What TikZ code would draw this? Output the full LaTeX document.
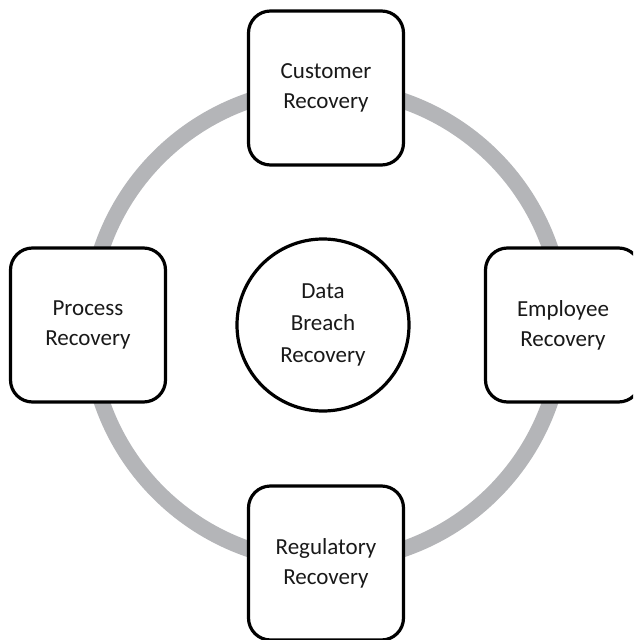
\documentclass[tikz,border=0pt]{standalone}
\usepackage{fontspec}
\setmainfont{Carlito}
\usepackage{xcolor}
\definecolor{ringgray}{HTML}{B4B5B8}

\tikzset{
  recbox/.style={draw=black, line width=3.2pt, fill=white, rounded corners=22pt,
    minimum width=155pt, minimum height=154pt, align=center,
    font=\fontsize{23}{30}\selectfont, text=black!90},
  hubcircle/.style={draw=black, line width=3.2pt, fill=white, circle,
    minimum size=172pt, align=center, font=\fontsize{23}{32}\selectfont, text=black!90}
}

\begin{document}
\begin{tikzpicture}[x=1pt, y=-1pt]
  \clip (0,0) rectangle (633,640);
  \useasboundingbox (0,0) rectangle (633,640);

  % ring behind the boxes
  \coordinate (ringc) at (326,325);
  \draw[ringgray, line width=16pt] (ringc) circle[radius=237];

  \node[hubcircle] (hub) at (323,325) {Data\\Breach\\Recovery};

  \node[recbox] (customer) at (326,88) {Customer\\Recovery};
  \node[recbox] (employee) at (563,325) {Employee\\Recovery};
  \node[recbox] (regulatory) at (326,563) {Regulatory\\Recovery};
  \node[recbox] (process) at (88,325) {Process\\Recovery};
\end{tikzpicture}
\end{document}
